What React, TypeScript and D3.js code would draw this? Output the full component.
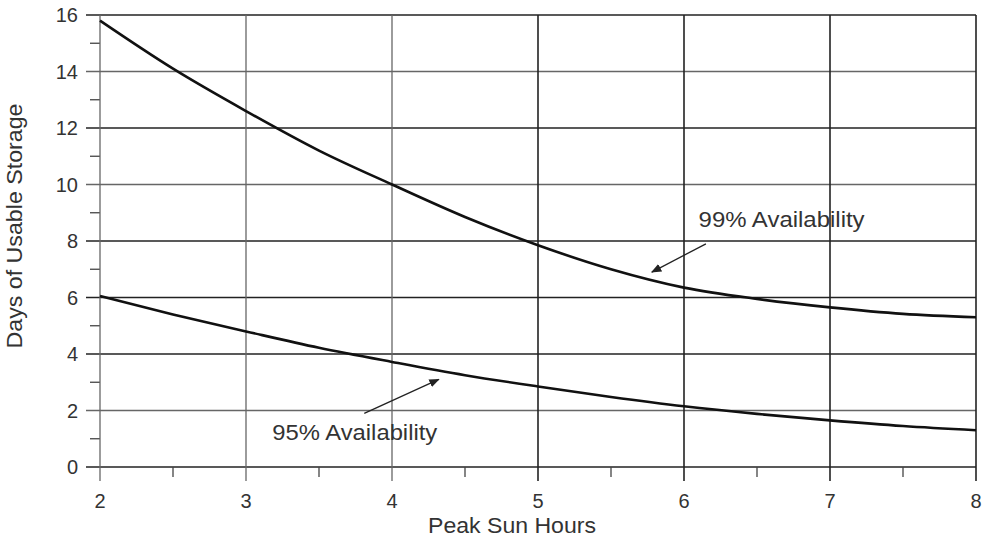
import * as d3 from 'd3';
import React, { useRef, useEffect } from 'react';

const hours = [2, 2.5, 3, 3.5, 4, 4.5, 5, 5.5, 6, 6.5, 7, 7.5, 8]
const avail99 = [15.8, 14.1, 12.6, 11.2, 10.0, 8.85, 7.85, 7.0, 6.35, 5.95, 5.65, 5.42, 5.3]
const avail95 = [6.05, 5.4, 4.8, 4.22, 3.72, 3.25, 2.85, 2.48, 2.15, 1.88, 1.65, 1.45, 1.3]
const xTicks = [2, 3, 4, 5, 6, 7, 8]
const yTicks = [0, 2, 4, 6, 8, 10, 12, 14, 16]

const W = 982, H = 539
var margin = {top: 15, right: 6, bottom: 72, left: 100}

function App(){
  const ref = useRef(null);

  useEffect(() => {
    const svg = d3.select(ref.current)
    svg.selectAll('*').remove()

    const w = W - margin.left - margin.right
    const h = H - margin.top - margin.bottom
    const g = svg.append("g").attr("transform", `translate(${margin.left},${margin.top})`)

    const x = d3.scaleLinear().domain([2, 8]).range([0, w])
    const y = d3.scaleLinear().domain([0, 16]).range([h, 0])

    const font = "'Liberation Sans', Arial, sans-serif"

    // horizontal grid + left ticks
    yTicks.forEach(t => {
      const dark = t % 4 === 0 || t === 6
      g.append("line")
        .attr("x1", -14).attr("x2", w)
        .attr("y1", y(t)).attr("y2", y(t))
        .attr("stroke", dark ? "#222" : "#666")
        .attr("stroke-width", dark ? 1.6 : 1.3)
      g.append("text")
        .attr("x", -22).attr("y", y(t)).attr("dy", "0.36em")
        .attr("text-anchor", "end")
        .attr("font-family", font).attr("font-size", 20).attr("fill", "#333")
        .text(t)
    })
    d3.range(1, 16, 2).forEach(t => {
      g.append("line")
        .attr("x1", -10).attr("x2", 0)
        .attr("y1", y(t)).attr("y2", y(t))
        .attr("stroke", "#444").attr("stroke-width", 1.3)
    })

    // vertical grid + bottom ticks
    xTicks.forEach(t => {
      const dark = t >= 5
      g.append("line")
        .attr("x1", x(t)).attr("x2", x(t))
        .attr("y1", 0).attr("y2", h + 14)
        .attr("stroke", dark ? "#222" : "#666")
        .attr("stroke-width", dark ? 1.6 : 1.3)
      g.append("text")
        .attr("x", x(t)).attr("y", h + 41)
        .attr("text-anchor", "middle")
        .attr("font-family", font).attr("font-size", 20).attr("fill", "#333")
        .text(t)
    })
    d3.range(2.5, 8, 1).forEach(t => {
      g.append("line")
        .attr("x1", x(t)).attr("x2", x(t))
        .attr("y1", h).attr("y2", h + 10)
        .attr("stroke", "#444").attr("stroke-width", 1.3)
    })

    // curves
    const line = d3.line<number>()
      .x((d, i) => x(hours[i]))
      .y(d => y(d))
      .curve(d3.curveMonotoneX)
    ;[avail99, avail95].forEach(s => {
      g.append("path")
        .attr("d", line(s))
        .attr("fill", "none")
        .attr("stroke", "#111")
        .attr("stroke-width", 2.6)
    })

    // arrows
    svg.append("defs").append("marker")
      .attr("id", "ah")
      .attr("viewBox", "0 0 10 10")
      .attr("refX", 9).attr("refY", 5)
      .attr("markerWidth", 8).attr("markerHeight", 8)
      .attr("orient", "auto")
      .append("path")
      .attr("d", "M0,1 L10,5 L0,9 Z")
      .attr("fill", "#222")

    const arrow = (x1, y1, x2, y2) => {
      g.append("line")
        .attr("x1", x(x1)).attr("y1", y(y1))
        .attr("x2", x(x2)).attr("y2", y(y2))
        .attr("stroke", "#222").attr("stroke-width", 1.3)
        .attr("marker-end", "url(#ah)")
    }
    arrow(6.15, 7.9, 5.78, 6.9)
    arrow(3.81, 1.9, 4.32, 3.1)

    g.append("text")
      .attr("x", x(6.1)).attr("y", y(8.5))
      .attr("font-family", font).attr("font-size", 22).attr("fill", "#333")
      .attr("textLength", 166).attr("lengthAdjust", "spacingAndGlyphs")
      .text("99% Availability")
    g.append("text")
      .attr("x", x(3.18)).attr("y", y(0.95))
      .attr("font-family", font).attr("font-size", 22).attr("fill", "#333")
      .attr("textLength", 165).attr("lengthAdjust", "spacingAndGlyphs")
      .text("95% Availability")

    // axis titles
    g.append("text")
      .attr("x", w / 2 - 26).attr("y", h + 66)
      .attr("text-anchor", "middle")
      .attr("font-family", font).attr("font-size", 22).attr("fill", "#333")
      .attr("textLength", 168).attr("lengthAdjust", "spacingAndGlyphs")
      .text("Peak Sun Hours")
    g.append("text")
      .attr("transform", `translate(${-78},${h / 2 - 15}) rotate(-90)`)
      .attr("text-anchor", "middle")
      .attr("font-family", font).attr("font-size", 22).attr("fill", "#333")
      .attr("textLength", 245).attr("lengthAdjust", "spacingAndGlyphs")
      .text("Days of Usable Storage")
  })

  return (
    <svg ref={ref} width={W} height={H}
      style={{position: "absolute", left: 0, top: 0, background: "#fff"}}>
    </svg>
  )
}

export default App;
